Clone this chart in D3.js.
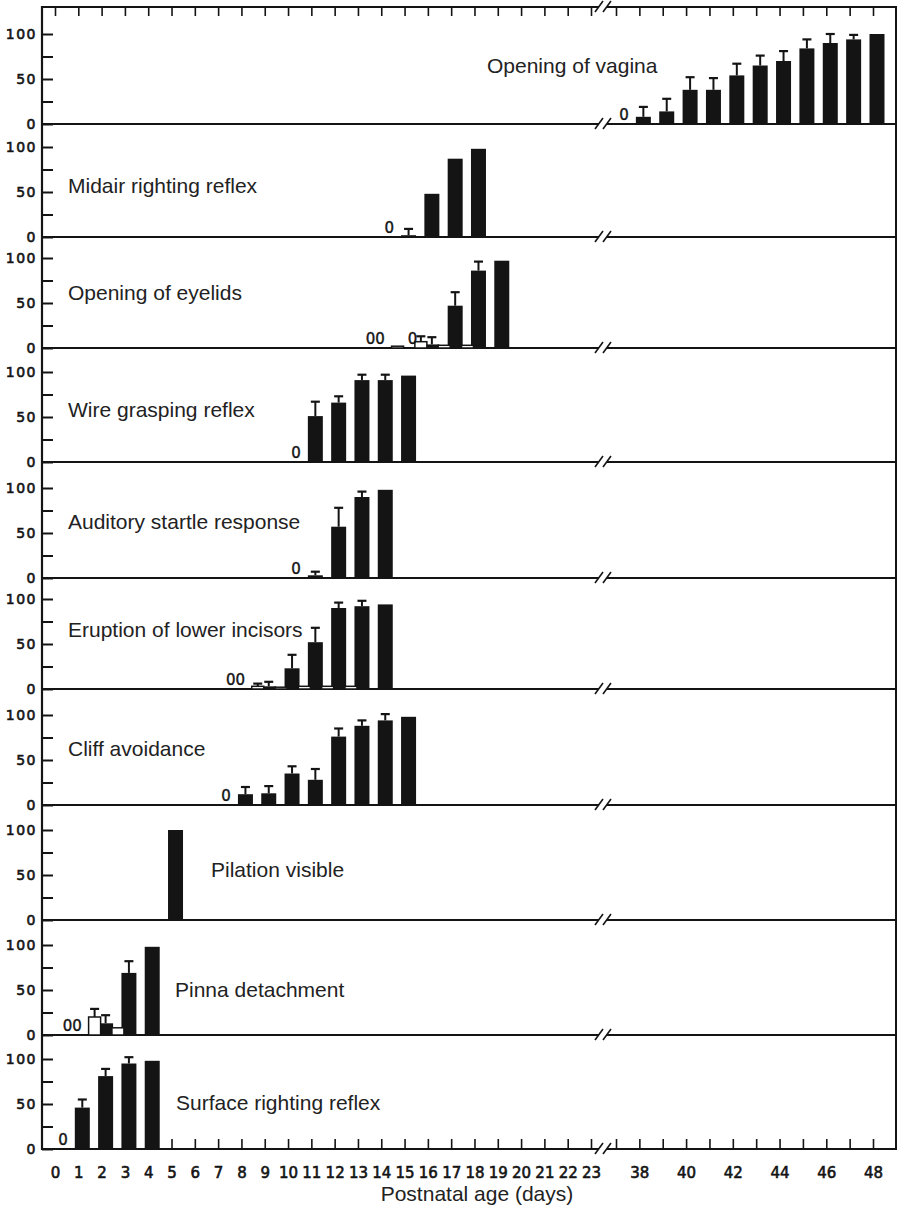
<!DOCTYPE html>
<html>
<head>
<meta charset="utf-8">
<script src="https://cdn.jsdelivr.net/npm/d3@7"></script>
<style>
  html, body { margin: 0; padding: 0; background: #fff; }
  svg { display: block; }
</style>
</head>
<body>
<svg id="chart" width="898" height="1207"></svg>
<script>
// Percentage of pups (mean, SEM) showing each developmental landmark, by postnatal day.
// Filled bars: [day, mean %, SEM]. Open bars: [day, mean %, SEM]. Zero marks: [day, text].

const panelTitles = [
  "Opening of vagina",
  "Midair righting reflex",
  "Opening of eyelids",
  "Wire grasping reflex",
  "Auditory startle response",
  "Eruption of lower incisors",
  "Cliff avoidance",
  "Pilation visible",
  "Pinna detachment",
  "Surface righting reflex"
];

const vaginaFilled = [[38, 8, 11], [39, 14, 14], [40, 38, 14], [41, 38, 13], [42, 54, 13],
  [43, 65, 11], [44, 70, 11], [45, 84, 10], [46, 90, 10], [47, 94, 5], [48, 100, 0]];
const vaginaZeros = [[37, "0"]];

const midairFilled = [[15, 2, 7], [16, 48, 0], [17, 87, 0], [18, 98, 0]];
const midairZeros = [[14, "0"]];

const eyelidsFilled = [[16, 4, 8], [17, 47, 15], [18, 86, 10], [19, 97, 0]];
const eyelidsOpen = [[15, 2, 0], [16, 7, 6], [17, 3, 0], [18, 3, 0]];
const eyelidsZeros = [[14, "00"], [15, "0"]];

const wireFilled = [[11, 51, 16], [12, 66, 7], [13, 91, 6], [14, 91, 6], [15, 96, 0]];
const wireZeros = [[10, "0"]];

const startleFilled = [[11, 3, 4], [12, 57, 21], [13, 90, 6], [14, 98, 0]];
const startleZeros = [[10, "0"]];

const incisorsFilled = [[9, 3, 5], [10, 23, 15], [11, 52, 16], [12, 90, 6], [13, 92, 6], [14, 94, 0]];
const incisorsOpen = [[9, 3, 3], [10, 2, 0], [11, 3, 0], [12, 3, 0], [13, 3, 0]];
const incisorsZeros = [[8, "00"]];

const cliffFilled = [[8, 12, 8], [9, 13, 8], [10, 35, 8], [11, 28, 12], [12, 76, 9],
  [13, 88, 6], [14, 94, 7], [15, 98, 0]];
const cliffZeros = [[7, "0"]];

const pilationFilled = [[5, 100, 0]];

const pinnaFilled = [[2, 13, 9], [3, 69, 13], [4, 98, 0]];
const pinnaOpen = [[2, 20, 9], [3, 8, 0]];
const pinnaZeros = [[1, "00"]];

const surfaceFilled = [[1, 46, 9], [2, 81, 8], [3, 95, 7], [4, 98, 0]];
const surfaceZeros = [[0, "0"]];

// Day axis: 0–23, then a break, then 37–48
const earlyDays = d3.range(0, 24);
const lateDays = d3.range(37, 49);
const dayLabels = earlyDays.concat([38, 40, 42, 44, 46, 48]);
const yTicks = [0, 25, 50, 75, 100];
const yLabels = [0, 50, 100];

const panels = [
  { filled: vaginaFilled, open: [], zeros: vaginaZeros },
  { filled: midairFilled, open: [], zeros: midairZeros },
  { filled: eyelidsFilled, open: eyelidsOpen, zeros: eyelidsZeros },
  { filled: wireFilled, open: [], zeros: wireZeros },
  { filled: startleFilled, open: [], zeros: startleZeros },
  { filled: incisorsFilled, open: incisorsOpen, zeros: incisorsZeros },
  { filled: cliffFilled, open: [], zeros: cliffZeros },
  { filled: pilationFilled, open: [], zeros: [] },
  { filled: pinnaFilled, open: pinnaOpen, zeros: pinnaZeros },
  { filled: surfaceFilled, open: [], zeros: surfaceZeros }
];

// ---- layout ----
const ink = "#141414";
const frameTop = 7;
const baselines = [124, 237, 348, 462, 578, 689, 805, 920, 1035, 1149];
const titlePos = [[487, 73], [68, 193], [68, 300], [68, 417], [68, 529],
  [68, 637], [68, 756], [211, 877], [175, 997], [176, 1110]];
const leftX = 42, rightX = 896;
const breakA = 599, breakB = 607;
const plotH = 90;          // pixels for 0–100 %
const barW = 15, openW = 12;

const svg = d3.select("#chart");

const x = d3.scaleLinear()
  .domain([0, 23, 37, 48])
  .range([55, 591, 616, 873]);

const g = svg.append("g");

// horizontal rules with axis break marks
function rule(y) {
  g.append("line").attr("x1", leftX).attr("x2", breakA).attr("y1", y).attr("y2", y)
    .attr("stroke", ink).attr("stroke-width", 2);
  g.append("line").attr("x1", breakB).attr("x2", rightX + 1).attr("y1", y).attr("y2", y)
    .attr("stroke", ink).attr("stroke-width", 2);
  [breakA, breakB].forEach(b => {
    g.append("line").attr("x1", b - 4).attr("y1", y + 5).attr("x2", b + 4).attr("y2", y - 6)
      .attr("stroke", ink).attr("stroke-width", 1.6);
  });
}
rule(frameTop);
baselines.forEach(rule);

// top ticks
const topAxis = d3.axisBottom(x).tickValues(earlyDays.concat(lateDays))
  .tickSize(9).tickFormat("");
const gt = g.append("g").attr("transform", `translate(0,${frameTop})`).call(topAxis);
gt.select(".domain").remove();
gt.selectAll(".tick line").attr("stroke", ink).attr("stroke-width", 1.6);

// bottom ticks
const bottomBase = baselines[baselines.length - 1];
const botTicks = d3.axisTop(x).tickValues(d3.range(1, 24).concat(lateDays))
  .tickSize(10).tickFormat("");
const gb = g.append("g").attr("transform", `translate(0,${bottomBase})`).call(botTicks);
gb.select(".domain").remove();
gb.selectAll(".tick line").attr("stroke", ink).attr("stroke-width", 1.6);

// bottom labels
const botLabels = d3.axisBottom(x).tickValues(dayLabels).tickSize(0).tickPadding(18);
const gl = g.append("g").attr("transform", `translate(0,${bottomBase})`).call(botLabels);
gl.select(".domain").remove();
gl.selectAll(".tick text")
  .attr("font-family", "DejaVu Sans").attr("font-size", 15)
  .attr("fill", ink).attr("stroke", ink).attr("stroke-width", 0.6);

// frame verticals
g.append("line").attr("x1", leftX).attr("x2", leftX).attr("y1", frameTop - 1).attr("y2", bottomBase + 1)
  .attr("stroke", ink).attr("stroke-width", 2.2);
g.append("line").attr("x1", rightX).attr("x2", rightX).attr("y1", frameTop - 1).attr("y2", bottomBase + 1)
  .attr("stroke", ink).attr("stroke-width", 2);

// x-axis title
g.append("text").attr("x", 477).attr("y", 1201).attr("text-anchor", "middle")
  .attr("font-family", "Liberation Sans, Arial, sans-serif").attr("font-size", 21)
  .attr("fill", "#222").text("Postnatal age (days)");

// ---- panels ----
panels.forEach((p, i) => {
  const base = baselines[i];
  const y = d3.scaleLinear().domain([0, 100]).range([base, base - plotH]);
  const pg = g.append("g");

  // y axis ticks and labels
  const ya = d3.axisLeft(y).tickValues(yTicks).tickSizeInner(-11).tickSizeOuter(0).tickPadding(5)
    .tickFormat(d => yLabels.includes(d) ? d : "");
  const ag = pg.append("g").attr("transform", `translate(${leftX},0)`).call(ya);
  ag.select(".domain").remove();
  ag.selectAll(".tick line").attr("stroke", ink).attr("stroke-width", 2);
  ag.selectAll(".tick text")
    .attr("font-family", "DejaVu Sans").attr("font-size", 14)
    .attr("letter-spacing", 1.5)
    .attr("fill", ink).attr("stroke", ink).attr("stroke-width", 0.6);

  // title
  pg.append("text").attr("x", titlePos[i][0]).attr("y", titlePos[i][1])
    .attr("font-family", "Liberation Sans, Arial, sans-serif").attr("font-size", 21)
    .attr("fill", "#222").text(panelTitles[i]);

  // bars with SEM caps
  function drawBars(rows, offset, w, fill, strokeW) {
    rows.forEach(([d, v, e]) => {
      const cx = x(d) + offset;
      if (e > 0) {
        pg.append("line").attr("x1", cx).attr("x2", cx).attr("y1", y(v)).attr("y2", y(v + e))
          .attr("stroke", ink).attr("stroke-width", 2);
        pg.append("line").attr("x1", cx - 4.5).attr("x2", cx + 4.5).attr("y1", y(v + e)).attr("y2", y(v + e))
          .attr("stroke", ink).attr("stroke-width", 2.2);
      }
      pg.append("rect")
        .attr("x", cx - w / 2).attr("width", w)
        .attr("y", y(v)).attr("height", Math.max(base - y(v), 0.5))
        .attr("fill", fill)
        .attr("stroke", strokeW ? ink : "none")
        .attr("stroke-width", strokeW || 0);
    });
  }
  drawBars(p.filled, 4, barW, ink, 0);
  drawBars(p.open, -7, openW, "#fff", 1.5);

  // zero marks
  p.zeros.forEach(([d, t]) => {
    pg.append("text")
      .attr("x", x(d) + (t.length > 1 ? -6 : 8)).attr("y", base - 4)
      .attr("text-anchor", "middle")
      .attr("font-family", "DejaVu Sans").attr("font-size", 15)
      .attr("fill", ink).attr("stroke", ink).attr("stroke-width", 0.4)
      .text(t);
  });
});
</script>
</body>
</html>
